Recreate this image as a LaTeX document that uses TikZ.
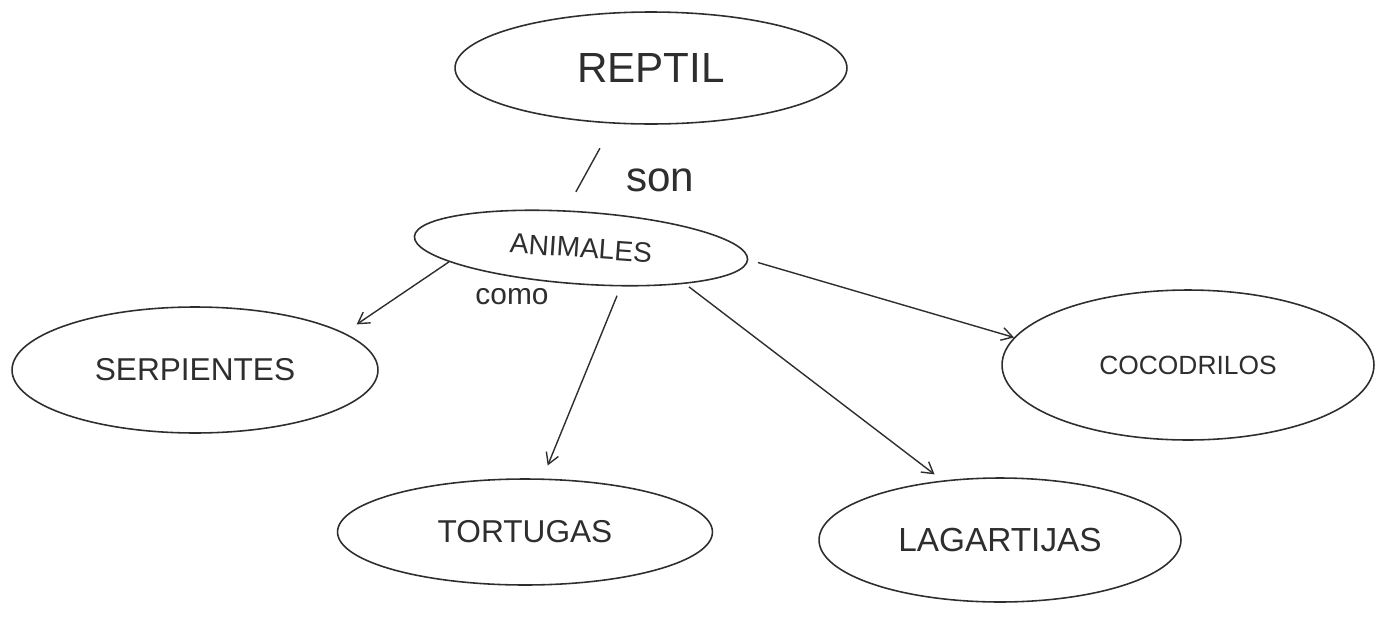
\documentclass[tikz,border=0pt]{standalone}
\usepackage{fontspec}
\setmainfont{Liberation Sans}
\usetikzlibrary{shapes.geometric,arrows.meta}
\definecolor{InkGray}{HTML}{2E2E2E}

\begin{document}
\begin{tikzpicture}[x=0.02cm,y=-0.02cm, every node/.style={text=InkGray},
  concept/.style={ellipse, draw=InkGray, line width=0.9pt, inner sep=0pt},
  link/.style={draw=InkGray, line width=0.8pt, -{Straight Barb[length=2.2mm,width=2.6mm]}}]
  \useasboundingbox (0,0) rectangle (1376,626);
  % concepts
  \node[concept, minimum width=7.84cm, minimum height=2.24cm, font=\fontsize{24}{28}\selectfont] (reptil) at (651,68) {REPTIL};
  \node[concept, minimum width=6.68cm, minimum height=1.44cm, rotate=-4, font=\fontsize{16}{19}\selectfont] (animales) at (581,248) {ANIMALES};
  \node[concept, minimum width=7.32cm, minimum height=2.52cm, font=\fontsize{18}{22}\selectfont] (serpientes) at (195,370) {SERPIENTES};
  \node[concept, minimum width=7.44cm, minimum height=3.0cm, font=\fontsize{15}{18}\selectfont] (cocodrilos) at (1188,365) {COCODRILOS};
  \node[concept, minimum width=7.5cm, minimum height=2.12cm, font=\fontsize{18}{22}\selectfont] (tortugas) at (525,532) {TORTUGAS};
  \node[concept, minimum width=7.24cm, minimum height=2.48cm, font=\fontsize{19}{23}\selectfont] (lagartijas) at (1000,540) {LAGARTIJAS};
  % link words
  \node[font=\fontsize{24}{28}\selectfont] (son) at (660,180) {son};
  \node[font=\fontsize{17}{20}\selectfont] (como) at (512,297) {como};
  % connectors
  \draw[draw=InkGray, line width=0.8pt, shorten <=0.56cm, shorten >=0.42cm] (reptil.236) -- (animales.116);
  \draw[link, shorten >=0.3cm] (animales.190) -- (serpientes.14);
  \draw[link, shorten <=0.2cm, shorten >=0.28cm] (animales.320) -- (tortugas.72);
  \draw[link, shorten <=0.1cm, shorten >=0.2cm] (animales.345) -- (lagartijas.134);
  \draw[link, shorten <=0.2cm] (animales.0) -- (cocodrilos.171);
\end{tikzpicture}
\end{document}
